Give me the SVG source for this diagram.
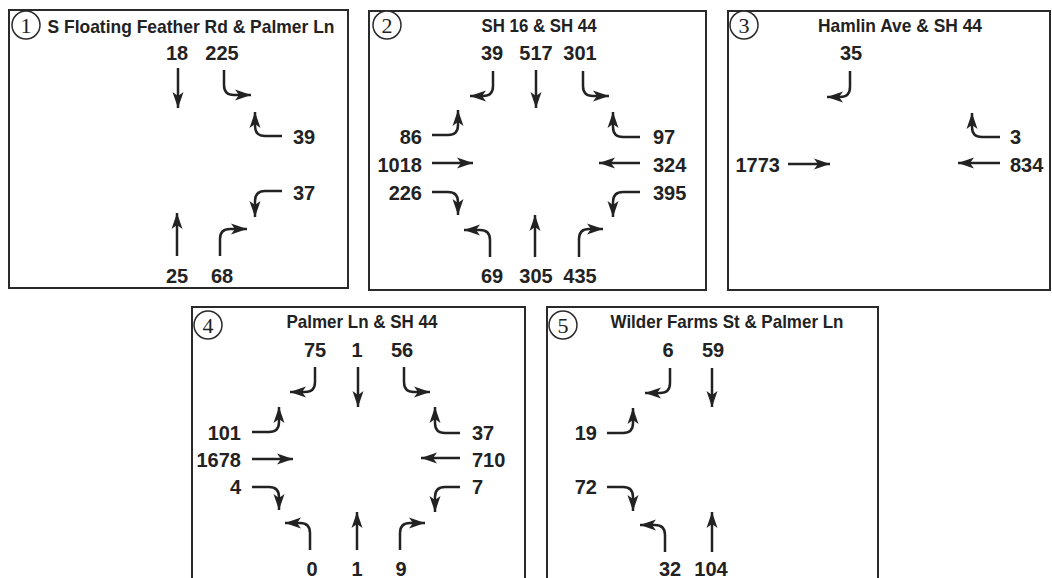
<svg xmlns="http://www.w3.org/2000/svg" width="1052" height="578" viewBox="0 0 1052 578">
<style>
.box{fill:#fff;stroke:#2a2a2a;stroke-width:2}
.circ{fill:#fff;stroke:#2a2a2a;stroke-width:1.5}
.cn{font-family:"Liberation Serif",serif;font-size:22px;fill:#222;text-anchor:middle}
.ttl{font-family:"Liberation Sans",Arial,sans-serif;font-weight:bold;font-size:18.5px;fill:#222;text-anchor:middle}
.n{font-family:"Liberation Sans",Arial,sans-serif;font-weight:bold;font-size:20px;fill:#222}
.c{text-anchor:middle}.e{text-anchor:end}.s{text-anchor:start}
.a{fill:none;stroke:#222;stroke-width:2.5;marker-end:url(#ah)}
</style>
<defs>
<marker id="ah" markerUnits="userSpaceOnUse" viewBox="0 0 16 11" markerWidth="16" markerHeight="11" refX="16" refY="5.5" orient="auto" overflow="visible">
<path d="M0,0 L16,5.5 L0,11 L4,5.5 Z" fill="#222"/>
</marker>
</defs>
<rect width="1052" height="578" fill="#fff"/>

<g id="panel1">
<rect class="box" x="9" y="10" width="339" height="278"/>
<circle class="circ" cx="26" cy="25" r="14"/>
<text class="cn" x="26" y="33">1</text>
<text class="ttl" x="191" y="33" style="font-size:19px" textLength="287" lengthAdjust="spacingAndGlyphs">S Floating Feather Rd &amp; Palmer Ln</text>
<text class="n c" x="177" y="60">18</text>
<text class="n c" x="222" y="60">225</text>
<text class="n s" x="293" y="144">39</text>
<text class="n s" x="293" y="200">37</text>
<text class="n c" x="177" y="283">25</text>
<text class="n c" x="222" y="283">68</text>
</g>

<g id="panel2">
<rect class="box" x="369" y="11" width="337" height="279"/>
<circle class="circ" cx="387" cy="25" r="14"/>
<text class="cn" x="387" y="33">2</text>
<text class="ttl" x="539" y="32" textLength="115" lengthAdjust="spacingAndGlyphs">SH 16 &amp; SH 44</text>
<text class="n c" x="492" y="60">39</text>
<text class="n c" x="536" y="60">517</text>
<text class="n c" x="580" y="60">301</text>
<text class="n e" x="422" y="144">86</text>
<text class="n e" x="422" y="172">1018</text>
<text class="n e" x="422" y="200">226</text>
<text class="n s" x="653" y="144">97</text>
<text class="n s" x="653" y="172">324</text>
<text class="n s" x="653" y="200">395</text>
<text class="n c" x="492" y="283">69</text>
<text class="n c" x="536" y="283">305</text>
<text class="n c" x="580" y="283">435</text>
</g>

<g id="panel3">
<rect class="box" x="728" y="11" width="322" height="279"/>
<circle class="circ" cx="744" cy="25" r="14"/>
<text class="cn" x="744" y="33">3</text>
<text class="ttl" x="900" y="32" textLength="164" lengthAdjust="spacingAndGlyphs">Hamlin Ave &amp; SH 44</text>
<text class="n c" x="851" y="60">35</text>
<text class="n s" x="1010" y="144">3</text>
<text class="n s" x="1010" y="172">834</text>
<text class="n e" x="780" y="172">1773</text>
</g>

<g id="panel4">
<rect class="box" x="192" y="307" width="333" height="280"/>
<circle class="circ" cx="208" cy="325" r="14"/>
<text class="cn" x="208" y="333">4</text>
<text class="ttl" x="362" y="328" textLength="151" lengthAdjust="spacingAndGlyphs">Palmer Ln &amp; SH 44</text>
<text class="n c" x="315" y="357">75</text>
<text class="n c" x="357" y="357">1</text>
<text class="n c" x="402" y="357">56</text>
<text class="n e" x="241" y="440">101</text>
<text class="n e" x="241" y="467">1678</text>
<text class="n e" x="241" y="494">4</text>
<text class="n s" x="472" y="440">37</text>
<text class="n s" x="472" y="467">710</text>
<text class="n s" x="472" y="494">7</text>
<text class="n c" x="312" y="576">0</text>
<text class="n c" x="357" y="576">1</text>
<text class="n c" x="401" y="576">9</text>
</g>

<g id="panel5">
<rect class="box" x="547" y="307" width="331" height="280"/>
<circle class="circ" cx="563" cy="325" r="14"/>
<text class="cn" x="563" y="333">5</text>
<text class="ttl" x="727" y="328" textLength="233" lengthAdjust="spacingAndGlyphs">Wilder Farms St &amp; Palmer Ln</text>
<text class="n c" x="668" y="357">6</text>
<text class="n c" x="713" y="357">59</text>
<text class="n e" x="597" y="440">19</text>
<text class="n e" x="597" y="494">72</text>
<text class="n c" x="670" y="576">32</text>
<text class="n c" x="711" y="576">104</text>
</g>

<g id="connectors">
<path class="a" d="M178,68 V108"/>
<path class="a" d="M224,70 V85 Q224,95 234,95 H251"/>
<path class="a" d="M282,136 H265 Q255,136 255,126 V112"/>
<path class="a" d="M282,191 H265 Q255,191 255,201 V217"/>
<path class="a" d="M220,256 V239 Q220,229 230,229 H247"/>
<path class="a" d="M177,256 V213"/>

<path class="a" d="M493,71 V86 Q493,96 483,96 H470"/>
<path class="a" d="M536,70 V108"/>
<path class="a" d="M583,71 V86 Q583,96 593,96 H609"/>
<path class="a" d="M640,137 H623 Q613,137 613,127 V112"/>
<path class="a" d="M640,163 H599"/>
<path class="a" d="M640,192 H623 Q613,192 613,202 V217"/>
<path class="a" d="M579,257 V239 Q579,229 589,229 H603"/>
<path class="a" d="M535,257 V215"/>
<path class="a" d="M490,257 V240 Q490,230 480,230 H464"/>
<path class="a" d="M432,192 H448 Q458,192 458,202 V215"/>
<path class="a" d="M432,163 H473"/>
<path class="a" d="M432,135 H448 Q458,135 458,125 V110"/>

<path class="a" d="M850,71 V87 Q850,97 840,97 H827"/>
<path class="a" d="M1000,137 H982 Q972,137 972,127 V113"/>
<path class="a" d="M1000,163 H958"/>
<path class="a" d="M788,164 H830"/>

<path class="a" d="M315,367 V382 Q315,392 305,392 H290"/>
<path class="a" d="M358,367 V407"/>
<path class="a" d="M404,367 V382 Q404,392 414,392 H430"/>
<path class="a" d="M460,433 H445 Q435,433 435,423 V407"/>
<path class="a" d="M460,458 H421"/>
<path class="a" d="M460,487 H445 Q435,487 435,497 V512"/>
<path class="a" d="M400,550 V533 Q400,523 410,523 H425"/>
<path class="a" d="M357,550 V512"/>
<path class="a" d="M310,550 V533 Q310,523 300,523 H285"/>
<path class="a" d="M252,487 H269 Q279,487 279,497 V510"/>
<path class="a" d="M252,459 H293"/>
<path class="a" d="M252,432 H269 Q279,432 279,422 V407"/>

<path class="a" d="M670,368 V383 Q670,393 660,393 H645"/>
<path class="a" d="M712,368 V407"/>
<path class="a" d="M607,433 H623 Q633,433 633,423 V408"/>
<path class="a" d="M607,487 H623 Q633,487 633,497 V511"/>
<path class="a" d="M665,552 V535 Q665,525 655,525 H640"/>
<path class="a" d="M712,552 V512"/>
</g>
</svg>
